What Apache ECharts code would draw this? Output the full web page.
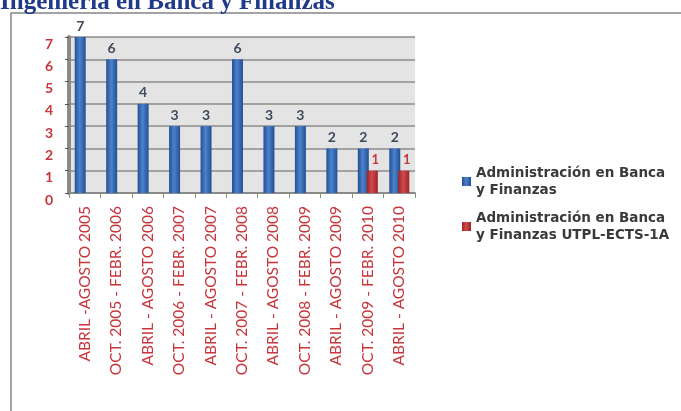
<!DOCTYPE html>
<html>
<head>
<meta charset="utf-8">
<script src="https://cdn.jsdelivr.net/npm/echarts@6/dist/echarts.min.js"></script>
<style>
  html, body { margin: 0; padding: 0; background: #fff; }
  #chart { width: 681px; height: 411px; }
</style>
</head>
<body>
<div id="chart"></div>
<script>
// periodos academicos
const periodos = [
  'ABRIL -AGOSTO 2005', 'OCT. 2005 - FEBR. 2006', 'ABRIL - AGOSTO 2006',
  'OCT. 2006 - FEBR. 2007', 'ABRIL - AGOSTO 2007', 'OCT. 2007 - FEBR. 2008',
  'ABRIL - AGOSTO 2008', 'OCT. 2008 - FEBR. 2009', 'ABRIL - AGOSTO 2009',
  'OCT. 2009 - FEBR. 2010', 'ABRIL - AGOSTO 2010'
];
const banca = [7, 6, 4, 3, 3, 6, 3, 3, 2, 2, 2];
const bancaEcts = [0, 0, 0, 0, 0, 0, 0, 0, 0, 1, 1];
const serieNombres = ['Administración en Banca y Finanzas', 'Administración en Banca y Finanzas UTPL-ECTS-1A'];
const legendaTextos = ['Administración en Banca\ny Finanzas', 'Administración en Banca\ny Finanzas UTPL-ECTS-1A'];

const rojo = '#c8353b';

const chart = echarts.init(document.getElementById('chart'));

const cilindro = (a, b) => new echarts.graphic.LinearGradient(0, 0, 1, 0, [
  { offset: 0, color: a }, { offset: 0.45, color: b }, { offset: 1, color: a }
]);

const option = {
  backgroundColor: '#fff',
  animation: false,
  graphic: [
    {
      type: 'rect', z: -1,
      shape: { x: 11, y: 13, width: 700, height: 420 },
      style: { fill: '#fff', stroke: '#a3a3a3', lineWidth: 2 }
    },
    {
      type: 'text', x: 0, y: 15,
      style: {
        text: 'Ingeniería en Banca y Finanzas',
        font: 'bold 25px "Liberation Serif"',
        fill: '#1f3a8a', verticalAlign: 'bottom'
      }
    }
  ],
  grid: {
    left: 69, top: 37, width: 346, height: 156,
    show: true, backgroundColor: '#e4e4e4', borderWidth: 0
  },
  legend: {
    orient: 'vertical', left: 457, top: 151,
    itemWidth: 9, itemHeight: 9, itemGap: -6,
    icon: 'rect',
    formatter: name => legendaTextos[serieNombres.indexOf(name)],
    textStyle: {
      fontFamily: 'DejaVu Sans', fontSize: 13.5, fontWeight: 'bold', color: '#3a3a3a',
      lineHeight: 17, padding: [17, 0, 0, 0]
    },
    data: serieNombres
  },
  xAxis: {
    type: 'category', data: periodos,
    axisLine: { lineStyle: { color: '#8a8a8a', width: 2 } },
    axisTick: { show: true, length: 5, lineStyle: { color: '#7a9a7a' } },
    axisLabel: {
      rotate: 90, interval: 0, margin: 13,
      fontFamily: 'Lato', fontSize: 15.5, color: rojo
    }
  },
  yAxis: {
    type: 'value', min: 0, max: 7, interval: 1,
    axisLine: { show: true, lineStyle: { color: '#8a8a8a', width: 4 } },
    axisTick: { show: true, length: 4, lineStyle: { color: '#555' } },
    splitLine: { lineStyle: { color: '#8c8c8c', width: 1.5 } },
    axisLabel: {
      margin: 16, verticalAlign: 'top', lineHeight: 14,
      fontFamily: 'Lato', fontSize: 14, fontWeight: 'bold', color: rojo
    }
  },
  series: [
    {
      name: serieNombres[0], type: 'bar', data: banca,
      barWidth: 11, barGap: '-18%',
      itemStyle: { color: cilindro('#234f93', '#4c82cc') },
      label: {
        show: true, position: 'top', distance: 4,
        fontFamily: 'Lato', fontSize: 14, fontWeight: 'bold', color: '#3d4a5c'
      }
    },
    {
      name: serieNombres[1], type: 'bar', data: bancaEcts,
      barWidth: 11,
      itemStyle: { color: cilindro('#9c2326', '#d24a4c') },
      label: {
        show: true, position: 'top', distance: 4, offset: [3, 0],
        fontFamily: 'Lato', fontSize: 13, fontWeight: 'bold', color: rojo,
        formatter: p => (p.value > 0 ? p.value : '')
      }
    }
  ]
};

chart.setOption(option);
</script>
</body>
</html>
